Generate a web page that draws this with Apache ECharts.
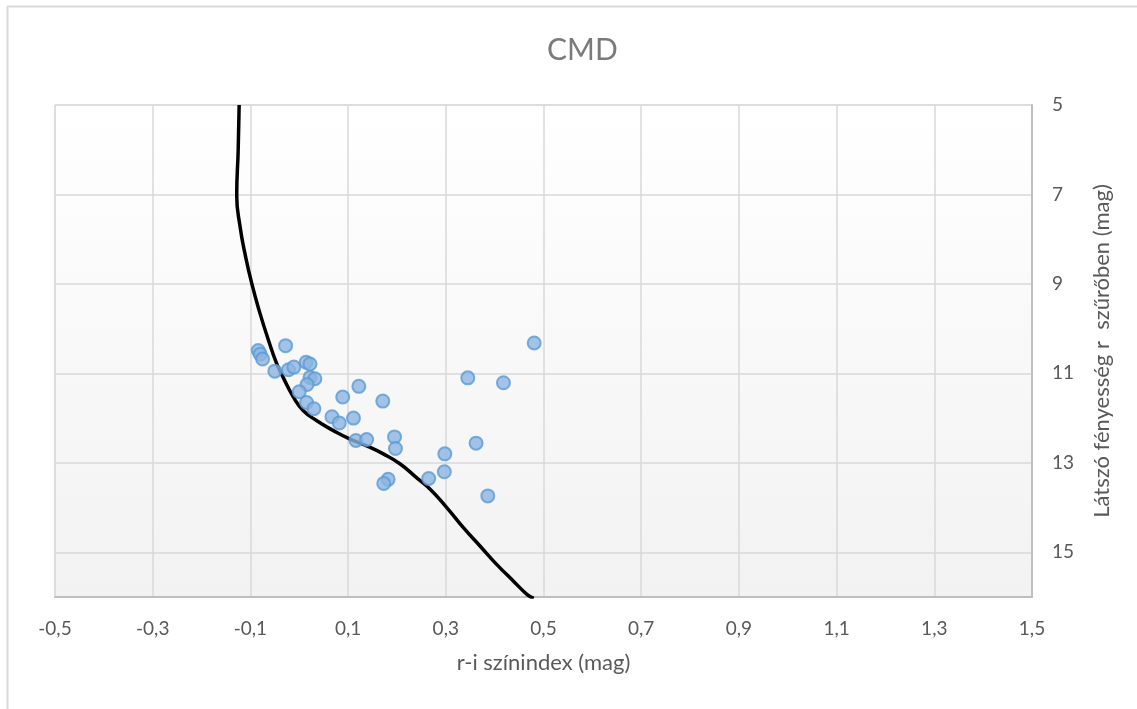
<!DOCTYPE html>
<html>
<head>
<meta charset="utf-8">
<script src="https://cdn.jsdelivr.net/npm/echarts@6/dist/echarts.min.js"></script>
<style>
html,body{margin:0;padding:0;background:#fff;}
#chart{width:1137px;height:709px;}
</style>
</head>
<body>
<div id="chart"></div>
<script>
// Observed stars: r-i colour index (x) and apparent r magnitude (y)
const starColor = [-0.084,-0.080,-0.075,-0.028,-0.050,-0.022,-0.011,0.014,0.022,0.022,0.032,0.016,0.000,0.015,0.030,0.089,0.122,0.171,0.067,0.082,0.111,0.116,0.138,0.195,0.197,0.182,0.173,0.265,0.298,0.297,0.481,0.345,0.418,0.362,0.386];
const starMag   = [10.49,10.57,10.68,10.38,10.95,10.92,10.86,10.75,10.79,11.09,11.12,11.25,11.41,11.65,11.79,11.53,11.29,11.62,11.97,12.11,12.00,12.50,12.48,12.42,12.68,13.37,13.46,13.35,12.80,13.20,10.32,11.10,11.21,12.56,13.74];
// Isochrone / main sequence curve
const curveColor = [-0.123,-0.125,-0.128,-0.121,-0.111,-0.097,-0.080,-0.063,-0.046,-0.033,-0.012,0.008,0.036,0.070,0.104,0.138,0.172,0.206,0.240,0.268,0.302,0.336,0.370,0.404,0.438,0.466,0.480];
const curveMag   = [5.00,6.01,7.02,7.73,8.33,9.00,9.67,10.26,10.79,11.09,11.53,11.83,12.06,12.28,12.47,12.62,12.80,13.02,13.33,13.59,14.00,14.45,14.86,15.27,15.64,15.94,16.03];
const xTicks = ['-0,5','-0,3','-0,1','0,1','0,3','0,5','0,7','0,9','1,1','1,3','1,5'];
const yTicks = ['5','7','9','11','13','15'];

const chart = echarts.init(document.getElementById('chart'), null, {renderer:'canvas'});
const font = 'Lato, "Open Sans", sans-serif';
const option = {
  backgroundColor:'#ffffff',
  animation:false,
  title:{text:'CMD',left:542,top:30,textStyle:{fontFamily:font,fontSize:30,fontWeight:'normal',color:'#7a7a7a'}},
  grid:{left:55,top:105,right:105,bottom:112,show:true,borderWidth:1,borderColor:'#d9d9d9',
    backgroundColor:{type:'linear',x:0,y:0,x2:0,y2:1,colorStops:[{offset:0,color:'#ffffff'},{offset:1,color:'#f2f2f2'}]}},
  xAxis:{type:'value',min:-0.5,max:1.5,interval:0.2,
    name:'r-i színindex (mag)',nameLocation:'middle',nameGap:55,
    nameTextStyle:{fontFamily:font,fontSize:22,color:'#595959'},
    axisLine:{show:true,onZero:false,lineStyle:{color:'#bfbfbf',width:2}},
    axisTick:{show:false},
    splitLine:{show:true,lineStyle:{color:'#d9d9d9',width:1.5}},
    axisLabel:{margin:22,fontFamily:font,fontSize:19,color:'#595959',
      formatter:function(v){const i=Math.round((v+0.5)/0.2);return xTicks[i]!==undefined?xTicks[i]:'';}}},
  yAxis:{type:'value',inverse:true,position:'right',min:5,max:16,interval:2,
    name:'Látszó fényesség r  szűrőben (mag)',nameLocation:'middle',nameGap:59,nameRotate:90,
    nameTextStyle:{fontFamily:font,fontSize:22,color:'#595959'},
    axisLine:{show:true,onZero:false,lineStyle:{color:'#bfbfbf',width:2}},
    axisTick:{show:false},
    splitLine:{show:true,lineStyle:{color:'#d9d9d9',width:1.5}},
    axisLabel:{margin:20,fontFamily:font,fontSize:19,color:'#595959',
      formatter:function(v){const i=Math.round((v-5)/2);return (Math.abs(v-(5+2*i))<1e-6&&yTicks[i]!==undefined)?yTicks[i]:'';}}},
  graphic:[
    {type:'line',shape:{x1:7,y1:6.5,x2:1137,y2:6.5},style:{stroke:'#d9d9d9',lineWidth:2},silent:true},
    {type:'line',shape:{x1:7.5,y1:6,x2:7.5,y2:709},style:{stroke:'#d9d9d9',lineWidth:2},silent:true}
  ],
  series:[
    {type:'line',data:curveColor.map((c,i)=>[c,curveMag[i]]),smooth:0.5,showSymbol:false,symbol:'none',clip:true,
      lineStyle:{color:'#000000',width:3.5},z:2},
    {type:'scatter',data:starColor.map((c,i)=>[c,starMag[i]]),symbol:'circle',symbolSize:13,
      itemStyle:{color:'#8db4e2',borderColor:'#5b9bd5',borderWidth:2},z:3}
  ]
};
chart.setOption(option);
</script>
</body>
</html>
